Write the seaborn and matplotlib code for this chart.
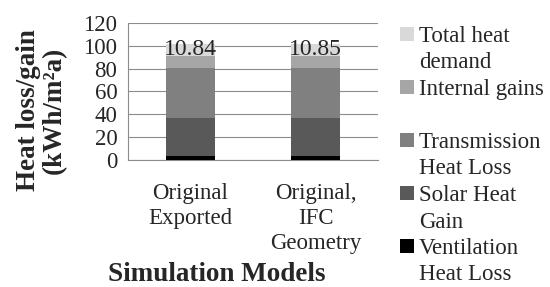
import matplotlib
matplotlib.use("Agg")
import matplotlib.pyplot as plt
from matplotlib.patches import Patch
import seaborn as sns
import pandas as pd

# values (kWh/m2a)
models = ["Original\nExported", "Original,\nIFC\nGeometry"]
ventilation = [3.9, 3.9]
solar = [32.6, 32.6]
transmission = [44.0, 44.0]
internal = [10.5, 10.5]
total_demand = [10.84, 10.85]

series_names = ["Ventilation Heat Loss", "Solar Heat Gain", "Transmission Heat Loss",
                "Internal gains", "Total heat demand"]
series_colors = ["#000000", "#595959", "#808080", "#a6a6a6", "#d9d9d9"]
legend_lines = [["Total heat", "demand"], ["Internal gains", " "],
                ["Transmission", "Heat Loss"], ["Solar Heat", "Gain"],
                ["Ventilation", "Heat Loss"]]

sns.set_style("white")
plt.rcParams["font.family"] = ["Liberation Serif", "DejaVu Serif"]
plt.rcParams["font.size"] = 16.5

df = pd.DataFrame({"model": models, "Ventilation Heat Loss": ventilation,
                   "Solar Heat Gain": solar, "Transmission Heat Loss": transmission,
                   "Internal gains": internal, "Total heat demand": total_demand})
cum = df[series_names].cumsum(axis=1)

fig = plt.figure(figsize=(5.5, 2.87), dpi=100)
ax = fig.add_axes([0.2327, 0.4415, 0.4545, 0.4794])

# stacked bars: draw the tallest cumulative first, then overlay lower ones
for name, col in reversed(list(zip(series_names, series_colors))):
    sns.barplot(x=df["model"], y=cum[name], color=col, saturation=1, width=0.39,
                errorbar=None, linewidth=0, ax=ax, zorder=3)

for i, v in enumerate(total_demand):
    base = cum["Internal gains"][i]
    ax.text(i, base + v / 2, f"{v:.2f}", ha="center", va="center", fontsize=17, zorder=4)

grid_col = "#8c8c8c"
ax.set_ylim(0, 120)
ax.set_yticks(range(0, 121, 20))
ax.set_xlim(-0.5, 1.5)
ax.yaxis.grid(True, color=grid_col, linewidth=0.8, zorder=0)
ax.set_axisbelow(True)
for s in ["top", "right"]:
    ax.spines[s].set_visible(False)
for s in ["left", "bottom"]:
    ax.spines[s].set_color(grid_col)
    ax.spines[s].set_linewidth(0.8)

ax.tick_params(axis="y", length=3.6, color=grid_col, width=0.8, pad=4, labelsize=16.5)
ax.tick_params(axis="x", which="major", length=0, pad=16, labelsize=16.5)
for lab in ax.get_xticklabels():
    lab.set_linespacing(1.27)
ax.set_xticks([-0.5, 0.5, 1.5], minor=True)
ax.tick_params(axis="x", which="minor", length=3.6, color=grid_col, width=0.8)

ax.set_xlabel("Simulation Models", fontsize=19.5, fontweight="bold")
ax.xaxis.set_label_coords(0.354, -0.74)
ax.set_ylabel("Heat loss/gain\n(kWh/m²a)", fontsize=19.5, fontweight="bold", linespacing=1.05)
ax.yaxis.set_label_coords(-0.245, 0.366)

handles, labels = [], []
for col, lines in zip(reversed(series_colors), legend_lines):
    handles.append(Patch(facecolor=col, edgecolor="none"))
    labels.append(lines[0])
    handles.append(Patch(facecolor="none", edgecolor="none"))
    labels.append(lines[1])
fig.legend(handles, labels, loc="upper left", bbox_to_anchor=(400 / 550, 1 - 26 / 287),
           frameon=False, borderpad=0, borderaxespad=0, labelspacing=0.24,
           handlelength=0.6, handleheight=0.6, handletextpad=0.23, fontsize=16.5)

fig.savefig("out.png", dpi=100)
